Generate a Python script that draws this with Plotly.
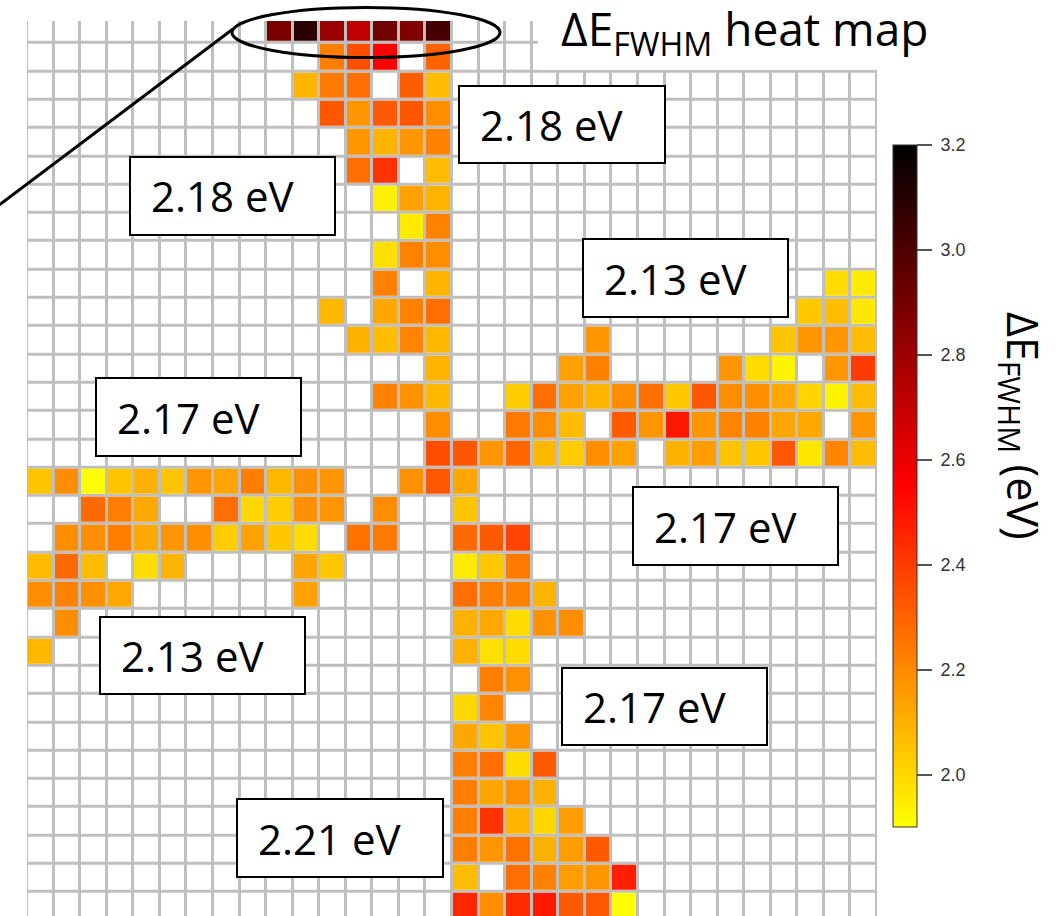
import numpy as np
import plotly.graph_objects as go

# ---------------------------------------------------------------------------
# Peak width (ΔE_FWHM, eV) on a 32 x 32 tile grid.  Row 0 is the top row.
# Each branch stores {row: {column: value}}; tiles not listed are empty.
# ---------------------------------------------------------------------------
N_ROWS, N_COLS = 32, 32
rows = list(range(N_ROWS))
cols = list(range(N_COLS))

top_strip = {
    0: {9: 2.89, 10: 3.09, 11: 2.81, 12: 2.71, 13: 2.91, 14: 2.87, 15: 3.02},
}

upper_arm = {
    1: {11: 2.23, 12: 2.35, 13: 2.55, 15: 2.30},
    2: {10: 2.09, 11: 2.24, 12: 2.27, 14: 2.31, 15: 2.07},
    3: {11: 2.33, 12: 2.17, 13: 2.32, 14: 2.33, 15: 2.19},
    4: {12: 2.17, 13: 2.09, 14: 2.17, 15: 2.22},
    5: {12: 2.27, 13: 2.42, 15: 2.07},
    6: {13: 1.94, 14: 2.14, 15: 2.09},
    7: {14: 1.95, 15: 2.22},
    8: {13: 1.98, 14: 2.22, 15: 2.19},
    9: {13: 2.22, 15: 2.09},
    10: {11: 2.08, 13: 2.12, 14: 2.22, 15: 2.27},
    11: {12: 2.10, 13: 2.07, 14: 2.21, 15: 2.08},
    12: {15: 2.09},
    13: {13: 2.22, 14: 2.18, 15: 2.08},
    14: {15: 2.19},
    15: {15: 2.35, 16: 2.33},
}

right_arm = {
    9: {30: 1.99, 31: 1.95},
    10: {29: 2.04, 30: 2.07, 31: 1.96},
    11: {21: 2.17, 28: 2.05, 29: 2.17, 30: 2.17, 31: 2.07},
    12: {20: 2.14, 21: 2.22, 26: 2.17, 27: 1.99, 28: 1.93, 30: 2.17, 31: 2.40},
    13: {18: 2.03, 19: 2.27, 20: 2.14, 21: 2.09, 22: 2.19, 23: 2.27, 24: 2.04,
         25: 2.33, 26: 2.19, 27: 2.19, 28: 2.12, 29: 2.01, 30: 1.93, 31: 2.07},
    14: {18: 2.24, 19: 2.19, 20: 2.07, 22: 2.32, 23: 2.17, 24: 2.49, 25: 2.17,
         26: 2.21, 27: 2.22, 28: 2.13, 29: 2.12, 31: 2.17},
    15: {17: 2.17, 18: 2.29, 19: 2.08, 20: 2.03, 21: 2.19, 22: 2.14, 24: 2.10,
         25: 2.15, 26: 2.05, 27: 2.04, 28: 2.33, 29: 1.96, 30: 2.21, 31: 2.07},
}

left_arm = {
    16: {0: 2.05, 1: 2.19, 2: 1.90, 3: 2.05, 4: 2.10, 5: 2.05, 6: 2.17, 7: 2.13,
         8: 2.23, 9: 2.08, 10: 2.18, 11: 2.17, 14: 2.18, 15: 2.33},
    17: {2: 2.28, 3: 2.23, 4: 2.12, 7: 2.27, 8: 2.00, 9: 2.03, 10: 2.18, 11: 2.17,
         13: 2.19},
    18: {1: 2.19, 2: 2.19, 3: 2.23, 4: 2.12, 5: 2.17, 6: 2.19, 7: 2.03, 8: 2.14,
         9: 2.04, 10: 1.99, 12: 2.26, 13: 2.24},
    19: {0: 2.07, 1: 2.28, 2: 2.07, 4: 1.99, 5: 2.09, 10: 2.13, 11: 2.04},
    20: {0: 2.19, 1: 2.22, 2: 2.18, 3: 2.12, 10: 2.14},
    21: {1: 2.19},
    22: {0: 2.08},
}

lower_arm = {
    16: {16: 2.13},
    17: {16: 2.05},
    18: {16: 2.28, 17: 2.32, 18: 2.38},
    19: {16: 1.95, 17: 2.04, 18: 2.24},
    20: {16: 2.27, 17: 2.23, 18: 2.22, 19: 2.09},
    21: {16: 2.10, 17: 2.12, 18: 1.99, 19: 2.18, 20: 2.19},
    22: {16: 2.10, 17: 1.98, 18: 1.99},
    23: {17: 2.23, 18: 2.18},
    24: {16: 2.00, 17: 2.21},
    25: {16: 2.12, 17: 2.05, 18: 2.17},
    26: {16: 2.23, 17: 2.27, 18: 1.99, 19: 2.32},
    27: {16: 2.23, 17: 2.13, 18: 2.18, 19: 2.10},
    28: {16: 2.23, 17: 2.42, 18: 2.09, 19: 2.00, 20: 2.15},
    29: {16: 2.23, 17: 2.17, 18: 2.26, 19: 2.10, 20: 2.15, 21: 2.32},
    30: {16: 2.07, 18: 2.27, 19: 2.22, 20: 2.15, 21: 2.17, 22: 2.47},
    31: {16: 2.45, 17: 2.19, 18: 2.44, 19: 2.49, 20: 2.32, 21: 2.33, 22: 1.90},
}

# branch averages written in the boxes: (label, box left, top, right, bottom) in px
region_labels = ["2.18 eV", "2.18 eV", "2.13 eV", "2.17 eV",
                 "2.17 eV", "2.13 eV", "2.17 eV", "2.21 eV"]
label_boxes = [(459, 86, 665, 163), (130, 157, 335, 235), (583, 239, 788, 317),
               (96, 378, 301, 456), (633, 487, 838, 565), (100, 617, 305, 694),
               (562, 668, 767, 745), (237, 799, 443, 877)]

cbar_ticks = [2.0, 2.2, 2.4, 2.6, 2.8, 3.0, 3.2]
Z_MIN, Z_MAX = 1.9, 3.2

# ---------------------------------------------------------------------------
z = np.full((N_ROWS, N_COLS), np.nan)
for branch in (top_strip, upper_arm, right_arm, left_arm, lower_arm):
    for r, cells in branch.items():
        for c, v in cells.items():
            z[r, c] = v

W, H = 1056, 916
ML, MR, MT, MB = 27, 179, 21, 0
PW, PH = W - ML - MR, H - MT - MB


def paper_x(px):
    return (px - ML) / PW


def paper_y(py):
    return (H - MB - py) / PH


hot = [[0.0, "#ffff00"], [0.5, "#ff0000"], [1.0, "#000000"]]
GAP = 3

fig = go.Figure()
# blank tiles (white) so the gaps read as the grey grid
fig.add_trace(go.Heatmap(
    z=np.ones((N_ROWS, N_COLS)), x=cols, y=rows,
    colorscale=[[0, "white"], [1, "white"]], showscale=False,
    xgap=GAP, ygap=GAP, hoverinfo="skip"))

fig.add_trace(go.Heatmap(
    z=z, x=cols, y=rows, zmin=Z_MIN, zmax=Z_MAX, colorscale=hot,
    xgap=GAP, ygap=GAP,
    colorbar=dict(
        thickness=24, thicknessmode="pixels",
        len=682, lenmode="pixels",
        x=paper_x(893), xanchor="left", xpad=0,
        y=paper_y(486), yanchor="middle", ypad=0,
        outlinecolor="#333333", outlinewidth=1,
        ticks="outside", ticklen=15, tickwidth=1.5, tickcolor="#555555",
        tickvals=cbar_ticks,
        ticktext=["\u00a0" + f"{t:.1f}" for t in cbar_ticks],
        tickfont=dict(family="Liberation Sans", size=18, color="#333333"),
    ),
))

row_h = PH / 28.3  # rows visible in the plot area
fig.update_layout(
    width=W, height=H,
    margin=dict(l=ML, r=MR, t=MT, b=MB, pad=0),
    paper_bgcolor="white", plot_bgcolor="#bfbfbf",
    showlegend=False,
    xaxis=dict(range=[-0.5, N_COLS - 0.5], visible=False, fixedrange=True),
    yaxis=dict(range=[-0.277 + row_h, -0.277], visible=False, fixedrange=True),
    font=dict(family="Open Sans", color="black"),
)

shapes = []
# clear band behind the heading
shapes.append(dict(type="rect", xref="paper", yref="paper", layer="above",
                   x0=paper_x(538), x1=paper_x(W + 5), y0=paper_y(70), y1=paper_y(-5),
                   fillcolor="white", line=dict(width=0)))
# ellipse round the top strip and the pointer line
shapes.append(dict(type="circle", xref="paper", yref="paper", layer="above",
                   x0=paper_x(232), x1=paper_x(500), y0=paper_y(57.5), y1=paper_y(7.5),
                   line=dict(color="black", width=3)))
shapes.append(dict(type="line", xref="paper", yref="paper", layer="above",
                   x0=paper_x(-2), y0=paper_y(206), x1=paper_x(233), y1=paper_y(29),
                   line=dict(color="black", width=3)))
for (x0, y0, x1, y1) in label_boxes:
    shapes.append(dict(type="rect", xref="paper", yref="paper", layer="above",
                       x0=paper_x(x0), x1=paper_x(x1), y0=paper_y(y1), y1=paper_y(y0),
                       fillcolor="white", line=dict(color="black", width=2)))
fig.update_layout(shapes=shapes)

annotations = []
for text, (x0, y0, x1, y1) in zip(region_labels, label_boxes):
    annotations.append(dict(
        text=text, xref="paper", yref="paper", showarrow=False,
        x=paper_x(x0 + 19), xanchor="left",
        y=paper_y((y0 + y1) / 2), yanchor="middle",
        font=dict(family="Open Sans", size=42, color="black")))

annotations.append(dict(
    text="ΔE<sub>FWHM</sub> heat map",
    xref="paper", yref="paper", showarrow=False,
    x=paper_x(559), xanchor="left", y=paper_y(31), yanchor="middle",
    font=dict(family="Open Sans", size=46, color="black")))

annotations.append(dict(
    text="ΔE<sub>FWHM</sub> (eV)",
    xref="paper", yref="paper", showarrow=False, textangle=90,
    x=paper_x(1021), xanchor="center", y=paper_y(426), yanchor="middle",
    font=dict(family="Open Sans", size=43, color="black")))
fig.update_layout(annotations=annotations)

fig.write_html("out.html")
